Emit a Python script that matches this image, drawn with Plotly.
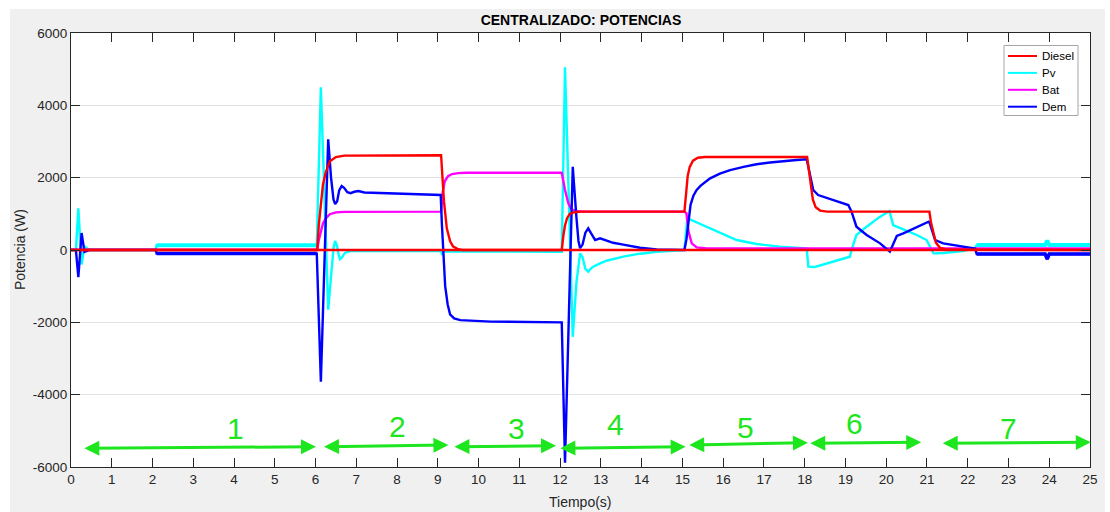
import plotly.graph_objects as go

# ---- measured power traces (time in s, power in W) ----
t_diesel = [0, 6.04, 6.08, 6.12, 6.18, 6.25, 6.35, 6.5, 6.7,
            9.08, 9.10, 9.15, 9.22, 9.30, 9.37, 9.50, 9.60,
            12.04, 12.08, 12.12, 12.17, 12.24, 12.35, 12.5,
            15.05, 15.09, 15.13, 15.18, 15.26, 15.38, 15.55,
            18.06, 18.10, 18.14, 18.20, 18.27, 18.38, 18.55,
            21.06, 21.10, 21.15, 21.22, 21.32, 21.50, 25]
p_diesel = [0, 0, 700, 1200, 1800, 2150, 2450, 2570, 2610,
            2620, 2300, 1350, 600, 250, 100, 20, 0,
            0, 400, 680, 880, 1000, 1045, 1060,
            1060, 1650, 2050, 2300, 2470, 2550, 2570,
            2570, 2200, 1850, 1400, 1180, 1090, 1060,
            1060, 750, 480, 200, 60, 10, 0]

# second diesel unit (kept off during the whole test)
t_diesel2 = [0, 25]
p_diesel2 = [0, 0]

t_pv = [0, 0.12, 0.18, 0.26, 0.33, 0.45,
        2.08, 2.10, 6.03,
        6.13, 6.31, 6.40, 6.44, 6.48, 6.53, 6.57, 6.60, 6.65, 6.72, 6.85,
        9.08, 9.10, 9.15,
        12.04, 12.12, 12.31, 12.40, 12.49, 12.55, 12.62, 12.69, 12.75, 12.81, 12.98,
        13.14, 13.55, 13.96, 14.37, 14.78,
        15.05, 15.12, 15.30, 15.51, 15.92, 16.33, 16.82, 17.39, 18.05,
        18.09, 18.25, 19.11, 19.15, 19.27, 19.52, 19.85, 20.08,
        20.17, 20.42, 20.75, 20.99, 21.16, 21.40, 21.89, 22.18, 22.22,
        23.90, 23.95, 24.00, 25]
p_pv = [0, 0, 1150, -400, 100, 0,
        0, 130, 130,
        4500, -1650, -600, 50, 250, 100, -150, -250, -200, -80, -30,
        -30, -100, -40,
        -50, 5050, -2400, -900, -90, -200, -520, -600, -520, -460, -368,
        -296, -185, -102, -47, -19,
        0, 880, 790, 690, 470, 276, 166, 92, 46,
        -460, -470, -185, 0, 415, 645, 922, 1078,
        690, 572, 415, 276, -92, -83, -28, 55, 135,
        135, 260, 135, 135]

t_bat = [0, 6.04,
         6.08, 6.12, 6.18, 6.25, 6.35, 6.5, 6.7,
         9.08, 9.12, 9.17, 9.25, 9.35, 9.5, 9.7,
         12.04, 12.08, 12.12, 12.2, 12.28, 12.4, 12.6,
         15.05, 15.10, 15.15, 15.23, 15.35, 15.6,
         25]
p_bat = [10, 10,
         280, 490, 730, 870, 990, 1040, 1055,
         1060, 1600, 1900, 2040, 2100, 2125, 2135,
         2135, 1900, 1660, 1300, 1120, 1070, 1060,
         1060, 1014, 507, 184, 74, 40,
         40]

t_dem = [0, 0.12, 0.18, 0.26, 0.33, 0.45,
         2.08, 2.10, 6.03,
         6.13, 6.31, 6.38, 6.44, 6.48, 6.53, 6.58, 6.64, 6.70, 6.78, 6.86, 6.95, 7.05, 7.20, 8.00,
         9.07, 9.10, 9.14, 9.18, 9.24, 9.30, 9.40, 9.55, 10.30,
         12.04, 12.12, 12.31, 12.40, 12.45, 12.49, 12.55, 12.62, 12.69, 12.75, 12.86, 12.98,
         13.30, 13.55, 13.96, 14.37, 14.78,
         15.05, 15.10, 15.15, 15.20, 15.27, 15.35, 15.45, 15.68, 15.92, 16.17, 16.50,
         16.82, 17.15, 17.47, 17.80, 18.05,
         18.13, 18.21, 18.33, 18.70, 19.07, 19.15, 19.27, 19.52, 19.85, 20.09,
         20.26, 20.42, 20.75, 21.04,
         21.07, 21.20, 21.40, 22.06, 22.18, 22.22,
         23.90, 23.95, 24.00, 25]
p_dem = [0, 0, -750, 470, -50, 0,
         0, -100, -100,
         -3640, 3060, 2000, 1400, 1270, 1350, 1650, 1770, 1720, 1600, 1570, 1610, 1630, 1590, 1560,
         1520, 700, -300, -1000, -1500, -1780, -1890, -1940, -1980,
         -2000, -5880, 2300, 900, 250, 50, 150, 480, 600, 480, 276, 323,
         200, 147, 64, 18, 0,
         0, 300, 800, 1250, 1500, 1660, 1780, 1980, 2110, 2210, 2300,
         2370, 2420, 2460, 2490, 2510,
         2120, 1660, 1520, 1383, 1244, 1060, 645, 415, 184, -46,
         387, 461, 627, 784,
         737, 276, 184, 64, 40, -110,
         -110, -250, -110, -110]

# stretches where the PV/demand signals carry measurement ripple
ripple_windows = [(2.10, 6.03), (22.22, 25.0)]

# operating phases shown along the bottom of the chart
phase_labels = ["1", "2", "3", "4", "5", "6", "7"]
phase_start = [0.29, 6.17, 9.37, 11.97, 15.13, 18.10, 21.35]
phase_end = [6.01, 9.26, 11.90, 15.08, 18.08, 20.86, 25.02]
phase_label_t = [4.04, 8.02, 10.94, 13.36, 16.55, 19.22, 22.99]

y_ticks = [-6000, -4000, -2000, 0, 2000, 4000, 6000]
x_ticks = list(range(0, 26))

# ---- styling ----
C_DIESEL = "#ff0000"
C_PV = "#00ffff"
C_BAT = "#ff00ff"
C_DEM = "#0000ff"
C_GREEN = "#1ee61e"
AX = "#262626"
FONT = "Liberation Sans, Arial, Helvetica, sans-serif"
LW = 2.4

W, H = 1110, 512
ML, MR, MT, MB = 71, 20, 33, 45
PW, PH = W - ML - MR, H - MT - MB


def px_to_paper_x(px):
    return (px - ML) / PW


def px_to_paper_y(py):
    return (H - MB - py) / PH


fig = go.Figure()


def add_series(t, p, name, color, width=LW):
    fig.add_trace(go.Scatter(
        x=t, y=p, mode="lines", name=name,
        line=dict(color=color, width=width),
        showlegend=False, hoverinfo="x+y+name"))


def add_ripple(t, p, color, width):
    for a, b in ripple_windows:
        xs = [x for x in t if a <= x <= b]
        ys = [y for x, y in zip(t, p) if a <= x <= b]
        fig.add_trace(go.Scatter(x=xs, y=ys, mode="lines",
                                 line=dict(color=color, width=width),
                                 showlegend=False, hoverinfo="skip"))


add_series(t_pv, p_pv, "Pv", C_PV)
add_ripple(t_pv, p_pv, C_PV, 4)
add_series(t_bat, p_bat, "Bat", C_BAT)
add_series(t_dem, p_dem, "Dem", C_DEM)
add_ripple(t_dem, p_dem, C_DEM, 3.5)
add_series(t_diesel, p_diesel, "Diesel", C_DIESEL)
add_series(t_diesel2, p_diesel2, "Diesel 2", C_DIESEL)

# phase arrows and numbers
arrow_y_start = [-5483, -5439, -5439, -5483, -5392, -5346, -5346]
arrow_y_end = [-5439, -5392, -5411, -5439, -5328, -5318, -5318]
label_y = [-4922, -4886, -4922, -4811, -4894, -4797, -4935]

annotations = []
for i, lab in enumerate(phase_labels):
    annotations.append(dict(
        x=phase_end[i], y=arrow_y_end[i], ax=phase_start[i], ay=arrow_y_start[i],
        xref="x", yref="y", axref="x", ayref="y", text="",
        showarrow=True, arrowside="end+start",
        arrowhead=2, startarrowhead=2, arrowsize=1, startarrowsize=1,
        arrowwidth=3, arrowcolor=C_GREEN, standoff=0, startstandoff=0))
    annotations.append(dict(
        x=phase_label_t[i], y=label_y[i], xref="x", yref="y",
        text=lab, showarrow=False,
        font=dict(family=FONT, size=30, color=C_GREEN),
        xanchor="center", yanchor="middle"))

annotations.append(dict(
    x=0.5, y=px_to_paper_y(502), xref="paper", yref="paper",
    text="Tiempo(s)", showarrow=False, xanchor="center", yanchor="middle",
    font=dict(family=FONT, size=14, color=AX)))
annotations.append(dict(
    x=px_to_paper_x(20), y=0.5, xref="paper", yref="paper",
    text="Potencia (W)", showarrow=False, textangle=-90,
    xanchor="center", yanchor="middle",
    font=dict(family=FONT, size=14, color=AX)))

shapes = []

# legend box drawn as a compact MATLAB-style key
legend_items = [("Diesel", C_DIESEL), ("Pv", C_PV), ("Bat", C_BAT), ("Dem", C_DEM)]
LG_L, LG_R, LG_T, LG_B = 1004, 1078, 45.5, 115.5
LG_ROW0, LG_STEP = 56, 16.9
shapes.append(dict(type="rect", xref="paper", yref="paper", layer="above",
                   x0=px_to_paper_x(LG_L), x1=px_to_paper_x(LG_R),
                   y0=px_to_paper_y(LG_B), y1=px_to_paper_y(LG_T),
                   fillcolor="white", line=dict(color="#a6a6a6", width=1)))
for k, (name, col) in enumerate(legend_items):
    yy = px_to_paper_y(LG_ROW0 + k * LG_STEP)
    shapes.append(dict(type="line", xref="paper", yref="paper", layer="above",
                       x0=px_to_paper_x(1008), x1=px_to_paper_x(1037), y0=yy, y1=yy,
                       line=dict(color=col, width=2)))
    annotations.append(dict(x=px_to_paper_x(1040), y=yy, xref="paper", yref="paper",
                            text=name, showarrow=False, xanchor="left", yanchor="middle",
                            font=dict(family=FONT, size=11.5, color="black")))

# white frame around the grey figure window
for x0, x1, y0, y1 in [(0, 10, W, 0), (0, W, 9, 0), (1105, W, W, 0)]:
    shapes.append(dict(type="rect", xref="paper", yref="paper", layer="below",
                       x0=px_to_paper_x(x0), x1=px_to_paper_x(x1),
                       y0=px_to_paper_y(y0), y1=px_to_paper_y(y1),
                       fillcolor="white", line=dict(width=0)))

axis_common = dict(
    showline=True, linecolor=AX, linewidth=1, mirror="ticks",
    ticks="inside", ticklen=9, tickwidth=1, tickcolor=AX,
    zeroline=False,
    tickfont=dict(family=FONT, size=13.5, color=AX),
)

fig.update_layout(
    width=W, height=H,
    margin=dict(l=ML, r=MR, t=MT, b=MB),
    paper_bgcolor="#f0f0f0", plot_bgcolor="white",
    font=dict(family=FONT, color=AX),
    title=dict(text="<b>CENTRALIZADO: POTENCIAS</b>", x=px_to_paper_x(581), xref="paper",
               xanchor="center", y=1 - 20 / H, yref="container", yanchor="middle",
               font=dict(family=FONT, size=14, color="black")),
    xaxis=dict(range=[0, 25], tickmode="array", tickvals=x_ticks,
               ticktext=[str(v) for v in x_ticks],
               showgrid=False, **axis_common),
    yaxis=dict(range=[-6000, 6000], tickmode="array", tickvals=y_ticks,
               ticktext=[str(v) for v in y_ticks],
               showgrid=True, gridcolor="#e3e3e3", gridwidth=1, **axis_common),
    annotations=annotations,
    shapes=shapes,
    showlegend=False,
)

fig.write_html("out.html")
